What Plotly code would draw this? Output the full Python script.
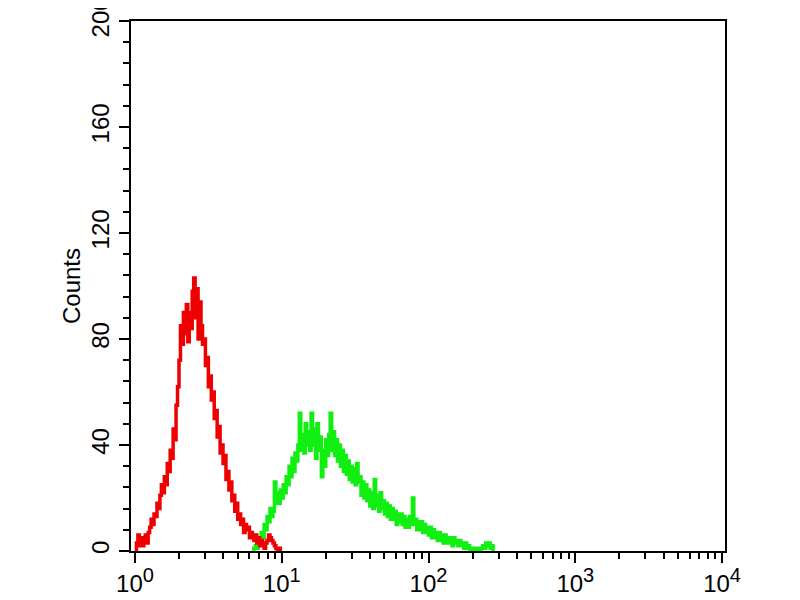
import plotly.graph_objects as go

# bin grid: log10 channel positions (0.01 decade bins)
red_log_start = 0.00
green_log_start = 0.80
bin_step = 0.01

red_counts = [
    0, 3, 6, 2, 5, 2, 4, 6, 3, 7,
    9, 12, 10, 14, 13, 18, 16, 21, 25, 22,
    28, 25, 33, 30, 38, 35, 46, 42, 55, 62,
    72, 85, 78, 90, 82, 93, 79, 90, 84, 98,
    103, 88, 99, 80, 94, 85, 78, 80, 70, 73,
    62, 66, 57, 60, 50, 53, 43, 47, 37, 40,
    33, 36, 27, 30, 23, 26, 19, 21, 15, 18,
    12, 14, 10, 12, 7, 10, 8, 9, 5, 7,
    6, 4, 6, 3, 5, 2, 4, 2, 1, 3,
    4, 6, 5, 4, 3, 2, 1, 0, 1, 0,
]

green_counts = [
    0, 1, 2, 1, 4, 3, 7, 5, 10, 8,
    13, 11, 16, 13, 15, 26, 18, 22, 18, 23,
    20, 25, 22, 28, 25, 32, 28, 35, 30, 37,
    34, 40, 52, 38, 44, 37, 48, 40, 45, 38,
    52, 40, 46, 35, 48, 38, 43, 28, 38, 32,
    42, 36, 44, 52, 38, 45, 36, 42, 34, 40,
    32, 38, 30, 36, 29, 34, 27, 32, 26, 31,
    25, 33, 26, 28, 21, 26, 20, 25, 19, 23,
    17, 22, 16, 27, 17, 21, 15, 22, 16, 19,
    14, 18, 13, 17, 12, 16, 12, 15, 10, 14,
    11, 14, 10, 13, 9, 12, 9, 13, 10, 20,
    10, 12, 8, 11, 8, 11, 7, 10, 7, 9,
    6, 9, 5, 8, 5, 7, 4, 7, 4, 6,
    3, 6, 3, 5, 3, 5, 2, 5, 3, 4,
    2, 4, 2, 3, 1, 3, 1, 2, 0, 1,
    0, 1, 0, 0, 1, 0, 1, 2, 1, 3,
    2, 3, 1, 2, 0, 0,
]

x_tickvals = [1, 10, 100, 1000, 10000]
x_ticktext = ["10<sup><span style='font-size:20px'>%d</span></sup>" % e for e in range(5)]
x_minor = [m * d for d in [1, 10, 100, 1000] for m in range(2, 10)]
y_tickvals = [0, 40, 80, 120, 160, 200]

red_x = [10 ** (red_log_start + i * bin_step) for i in range(len(red_counts))]
green_x = [10 ** (green_log_start + i * bin_step) for i in range(len(green_counts))]

fig = go.Figure()
fig.add_trace(go.Scatter(x=green_x, y=green_counts, mode="lines",
                         line=dict(color="#11ee11", width=3.5, shape="hv"), showlegend=False))
fig.add_trace(go.Scatter(x=red_x, y=red_counts, mode="lines",
                         line=dict(color="#ee0000", width=3.5, shape="hv"), showlegend=False))

fig.update_layout(
    width=800, height=600,
    margin=dict(l=123, r=83, t=13, b=57, autoexpand=False),
    paper_bgcolor="white", plot_bgcolor="white",
    font=dict(family="Liberation Sans, Arial, sans-serif", color="black"),
)
fig.update_xaxes(
    type="log", range=[-0.027, 4.02], automargin=False,
    showline=True, linecolor="black", linewidth=2, mirror=True,
    showgrid=False, zeroline=False,
    tickmode="array", tickvals=x_tickvals, ticktext=x_ticktext,
    ticks="outside", ticklen=10, tickwidth=2, tickcolor="black",
    tickfont=dict(size=24), ticklabeloverflow="allow",
    minor=dict(tickmode="array", tickvals=x_minor, ticks="outside", ticklen=6,
               tickwidth=2, tickcolor="black", showgrid=False),
)
fig.update_yaxes(
    range=[0, 200], automargin=False,
    showline=True, linecolor="black", linewidth=2, mirror=True,
    showgrid=False, zeroline=False,
    tickmode="array", tickvals=y_tickvals, tickangle=-90,
    ticks="outside", ticklen=10, tickwidth=2, tickcolor="black",
    tickfont=dict(size=24), ticklabelstandoff=0, ticklabeloverflow="allow",
    minor=dict(dtick=8, ticks="outside", ticklen=6, tickwidth=2, tickcolor="black",
               showgrid=False),
    title=dict(text="Counts", font=dict(size=24), standoff=0),
)

fig.write_html("out.html")
